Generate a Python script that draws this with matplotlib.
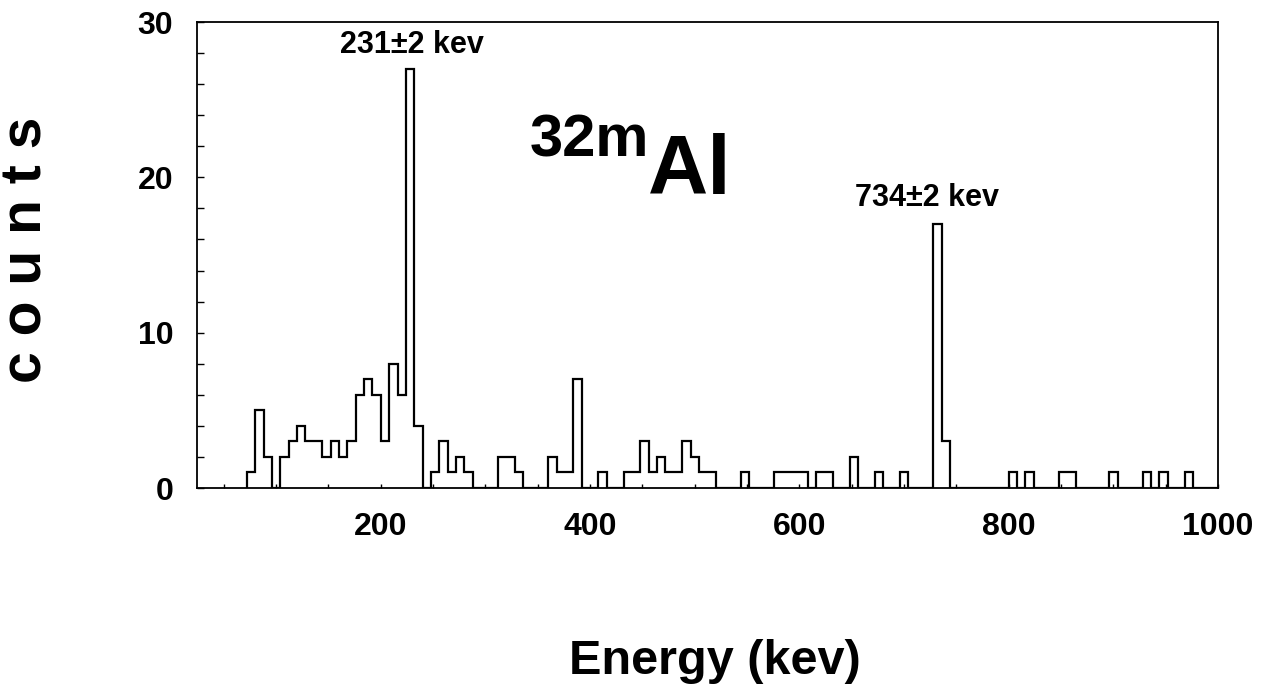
import numpy as np
import matplotlib
matplotlib.use("Agg")
import matplotlib.pyplot as plt
from matplotlib.ticker import MultipleLocator

# ---- data ----
bin_start = 72.0     # keV, low edge of first bin
bin_width = 8.0      # keV
counts = [
    1, 5, 2, 0, 2, 3, 4, 3, 3, 2,      # 72 - 152
    3, 2, 3, 6, 7, 6, 3, 8, 6, 27,     # 152 - 232
    4, 0, 1, 3, 1, 2, 1, 0, 0, 0,      # 232 - 312
    2, 2, 1, 0, 0, 0, 2, 1, 1, 7,      # 312 - 392
    0, 0, 1, 0, 0, 1, 1, 3, 1, 2,      # 392 - 472
    1, 1, 3, 2, 1, 1, 0, 0, 0, 1,      # 472 - 552
    0, 0, 0, 1, 1, 1, 1, 0, 1, 1,      # 552 - 632
    0, 0, 2, 0, 0, 1, 0, 0, 1, 0,      # 632 - 712
    0, 0, 17, 3, 0, 0, 0, 0, 0, 0,     # 712 - 792
    0, 1, 0, 1, 0, 0, 0, 1, 1, 0,      # 792 - 872
    0, 0, 0, 1, 0, 0, 0, 1, 0, 1,      # 872 - 952
    0, 0, 1, 0, 0, 0,                  # 952 - 1000
]
edges = bin_start + bin_width * np.arange(len(counts) + 1)

xticks = [200, 400, 600, 800, 1000]
yticks = [0, 10, 20, 30]

plt.rcParams['font.family'] = ['Liberation Sans', 'DejaVu Sans']
plt.rcParams['font.weight'] = 'bold'

fig = plt.figure(figsize=(12.63, 6.94), dpi=100)
ax = fig.add_axes([197/1263, 1-488/694, (1218-197)/1263, (488-22)/694])

ax.stairs(counts, edges, color='black', linewidth=1.6, baseline=0)

ax.set_xlim(24.4, 1000)
ax.set_ylim(0, 30)
ax.set_xticks(xticks)
ax.set_yticks(yticks)
ax.xaxis.set_minor_locator(MultipleLocator(50))
ax.yaxis.set_minor_locator(MultipleLocator(2))
ax.tick_params(axis='both', which='both', direction='in', labelsize=23, width=1.0)
ax.tick_params(axis='x', which='both', length=3, pad=17)
ax.tick_params(axis='y', which='both', length=5, pad=17)
for lab in ax.get_xticklabels() + ax.get_yticklabels():
    lab.set_fontweight('bold')
for s in ax.spines.values():
    s.set_linewidth(1.3)

ax.text(230, 28.5, '231±2 kev', ha='center', va='center', fontsize=22, fontweight='bold')
ax.text(722, 18.65, '734±2 kev', ha='center', va='center', fontsize=22, fontweight='bold')
ax.text(342, 21.35, '32m', ha='left', va='baseline', fontsize=43, fontweight='bold')
ax.text(455, 18.9, 'Al', ha='left', va='baseline', fontsize=60, fontweight='bold')

fig.text(27/1263, 1-250/694, 'c o u n t s', rotation=90, ha='center', va='center',
         fontsize=41, fontweight='bold')
fig.text(715/1263, 1-662/694, 'Energy (kev)', ha='center', va='center',
         fontsize=35, fontweight='bold')

fig.savefig('out.png', dpi=100)
